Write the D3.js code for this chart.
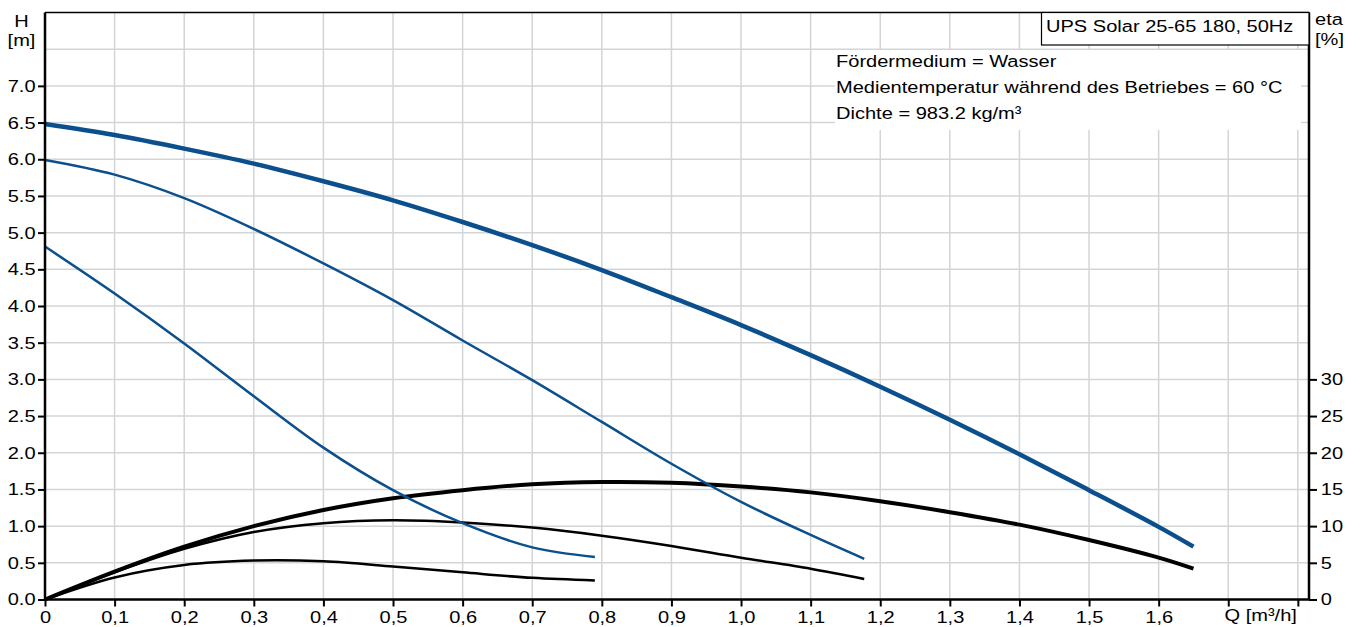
<!DOCTYPE html>
<html>
<head>
<meta charset="utf-8">
<title>UPS Solar 25-65 180</title>
<style>
  body { margin: 0; background: #fff; }
  text { font-family: "Liberation Sans", Arial, sans-serif; fill: #000; font-size: 17px; }
  .grid line { stroke: #d2d5d8; stroke-width: 1.5; }
</style>
<script src="https://d3js.org/d3.v7.min.js"></script>
</head>
<body>
<svg width="1365" height="627"></svg>
<script>
// flow values (m3/h) per speed curve
var q3 = [0, 0.1, 0.2, 0.3, 0.4, 0.5, 0.6, 0.7, 0.8, 0.9, 1.0, 1.1, 1.2, 1.3, 1.4, 1.5, 1.6, 1.65];
var q2 = [0, 0.1, 0.2, 0.3, 0.4, 0.5, 0.6, 0.7, 0.8, 0.9, 1.0, 1.1, 1.177];
var q1 = [0, 0.1, 0.2, 0.3, 0.4, 0.5, 0.6, 0.7, 0.79];

// head H [m]
var head3 = [6.48, 6.33, 6.145, 5.94, 5.70, 5.44, 5.145, 4.83, 4.49, 4.12, 3.74, 3.33, 2.90, 2.45, 1.98, 1.49, 0.99, 0.72];
var head2 = [5.99, 5.79, 5.47, 5.05, 4.58, 4.08, 3.53, 2.99, 2.42, 1.85, 1.33, 0.88, 0.555];
var head1 = [4.81, 4.17, 3.49, 2.77, 2.07, 1.49, 1.04, 0.71, 0.58];

// efficiency eta [%]
var eta3 = [0, 3.8, 7.2, 10.0, 12.2, 13.8, 14.9, 15.7, 16.0, 15.9, 15.4, 14.6, 13.4, 11.9, 10.2, 8.1, 5.7, 4.2];
var eta2 = [0, 3.7, 6.9, 9.2, 10.4, 10.8, 10.5, 9.8, 8.7, 7.3, 5.7, 4.2, 2.8];
var eta1 = [0, 3.0, 4.7, 5.3, 5.2, 4.5, 3.7, 2.95, 2.6];

var qTicks = [0, 0.1, 0.2, 0.3, 0.4, 0.5, 0.6, 0.7, 0.8, 0.9, 1.0, 1.1, 1.2, 1.3, 1.4, 1.5, 1.6, 1.7, 1.8];
var hTicks = [0, 0.5, 1, 1.5, 2, 2.5, 3, 3.5, 4, 4.5, 5, 5.5, 6, 6.5, 7];
var hGrid = [0.5, 1, 1.5, 2, 2.5, 3, 3.5, 4, 4.5, 5, 5.5, 6, 6.5, 7, 7.5];
var etaTicks = [0, 5, 10, 15, 20, 25, 30];

var title = "UPS Solar 25-65 180, 50Hz";
var infoLines = ["Fördermedium = Wasser",
                 "Medientemperatur während des Betriebes = 60 °C",
                 "Dichte = 983.2 kg/m³"];

var svg = d3.select("svg"),
    xLeft = 45, xRight = 1309, yTop = 12.5, yBottom = 599.5,
    blue = "#0b4f8c",
    stretch = 1.18; // reference glyphs are drawn wider than Arial

var x = d3.scaleLinear().domain([0, 1.816]).range([xLeft, xRight]);
var y = d3.scaleLinear().domain([0, 8]).range([yBottom, yTop]);
var yEta = d3.scaleLinear().domain([0, 80]).range([yBottom, yTop]);

//place a label with the horizontal stretch
function label(px, py, str, anchor) {
    return svg.append("text")
        .attr("transform", "translate(" + px + "," + py + ") scale(" + stretch + ",1)")
        .attr("text-anchor", anchor || "start")
        .text(str);
}

//grid lines
var grid = svg.append("g").attr("class", "grid");
grid.selectAll(".v").data(qTicks.slice(1)).enter().append("line")
    .attr("x1", function(d){ return x(d); }).attr("x2", function(d){ return x(d); })
    .attr("y1", yTop).attr("y2", yBottom);
grid.selectAll(".h").data(hGrid).enter().append("line")
    .attr("x1", xLeft).attr("x2", xRight)
    .attr("y1", function(d){ return y(d); }).attr("y2", function(d){ return y(d); });

//white area behind the info text
svg.append("rect").attr("x", 835).attr("y", 50).attr("width", 466).attr("height", 80).attr("fill", "#fff");

//curves
var line = d3.line()
    .x(function(d){ return x(d[0]); })
    .y(function(d){ return d[2](d[1]); })
    .curve(d3.curveCatmullRom.alpha(0.5));

function curve(qs, vs, scale, colour, width) {
    var pts = qs.map(function(q, i){ return [q, vs[i], scale]; });
    svg.append("path").attr("d", line(pts))
        .attr("fill", "none").attr("stroke", colour)
        .attr("stroke-width", width).attr("stroke-linejoin", "round");
}

curve(q1, eta1, yEta, "#000", 2.5);
curve(q2, eta2, yEta, "#000", 2.5);
curve(q3, eta3, yEta, "#000", 4);
curve(q1, head1, y, blue, 2.5);
curve(q2, head2, y, blue, 2.5);
curve(q3, head3, y, blue, 4.5);

//top frame line
svg.append("line").attr("x1", xLeft).attr("x2", xRight).attr("y1", yTop).attr("y2", yTop)
    .attr("stroke", "#000").attr("stroke-width", 1.5);

//axes
var xAxis = svg.append("g").attr("transform", "translate(0," + yBottom + ")")
    .call(d3.axisBottom(x).tickValues(qTicks).tickSize(7).tickPadding(4)
        .tickFormat(function(d){ return d === 0 ? "0" : (d > 1.65 ? "" : d3.format(".1f")(d).replace(".", ",")); }));
var yAxis = svg.append("g").attr("transform", "translate(" + xLeft + ",0)")
    .call(d3.axisLeft(y).tickValues(hTicks).tickSize(7).tickPadding(1).tickFormat(d3.format(".1f")));
var rAxis = svg.append("g").attr("transform", "translate(" + xRight + ",0)")
    .call(d3.axisRight(yEta).tickValues(etaTicks).tickSize(8).tickPadding(2));

[xAxis, yAxis, rAxis].forEach(function(a){
    a.attr("font-family", null).attr("font-size", null);
    a.select(".domain").attr("stroke", "#000").attr("stroke-width", 2.5);
    a.selectAll(".tick line").attr("stroke", "#000").attr("stroke-width", 2);
    a.selectAll(".tick text").attr("transform", "scale(" + stretch + ",1)");
});
yAxis.select(".domain").attr("d", "M0," + yTop + "V" + yBottom);
rAxis.select(".domain").attr("d", "M0," + yTop + "V" + yBottom);
xAxis.select(".domain").attr("d", "M" + xLeft + ",0H" + xRight);

//axis titles
label(21.5, 27, "H", "middle");
label(21.5, 46, "[m]", "middle");
label(1315, 25, "eta");
label(1315, 45, "[%]");
label(x(1.8) - 1, 621, "Q [m³/h]", "end");

//title box
svg.append("rect").attr("x", 1041.5).attr("y", yTop).attr("width", xRight - 1041.5).attr("height", 32.5)
    .attr("fill", "#fff").attr("stroke", "#000").attr("stroke-width", 1.2);
label(1046, 31.5, title);

//info text
infoLines.forEach(function(t, i){ label(836, 67.3 + i * 26, t); });
</script>
</body>
</html>
